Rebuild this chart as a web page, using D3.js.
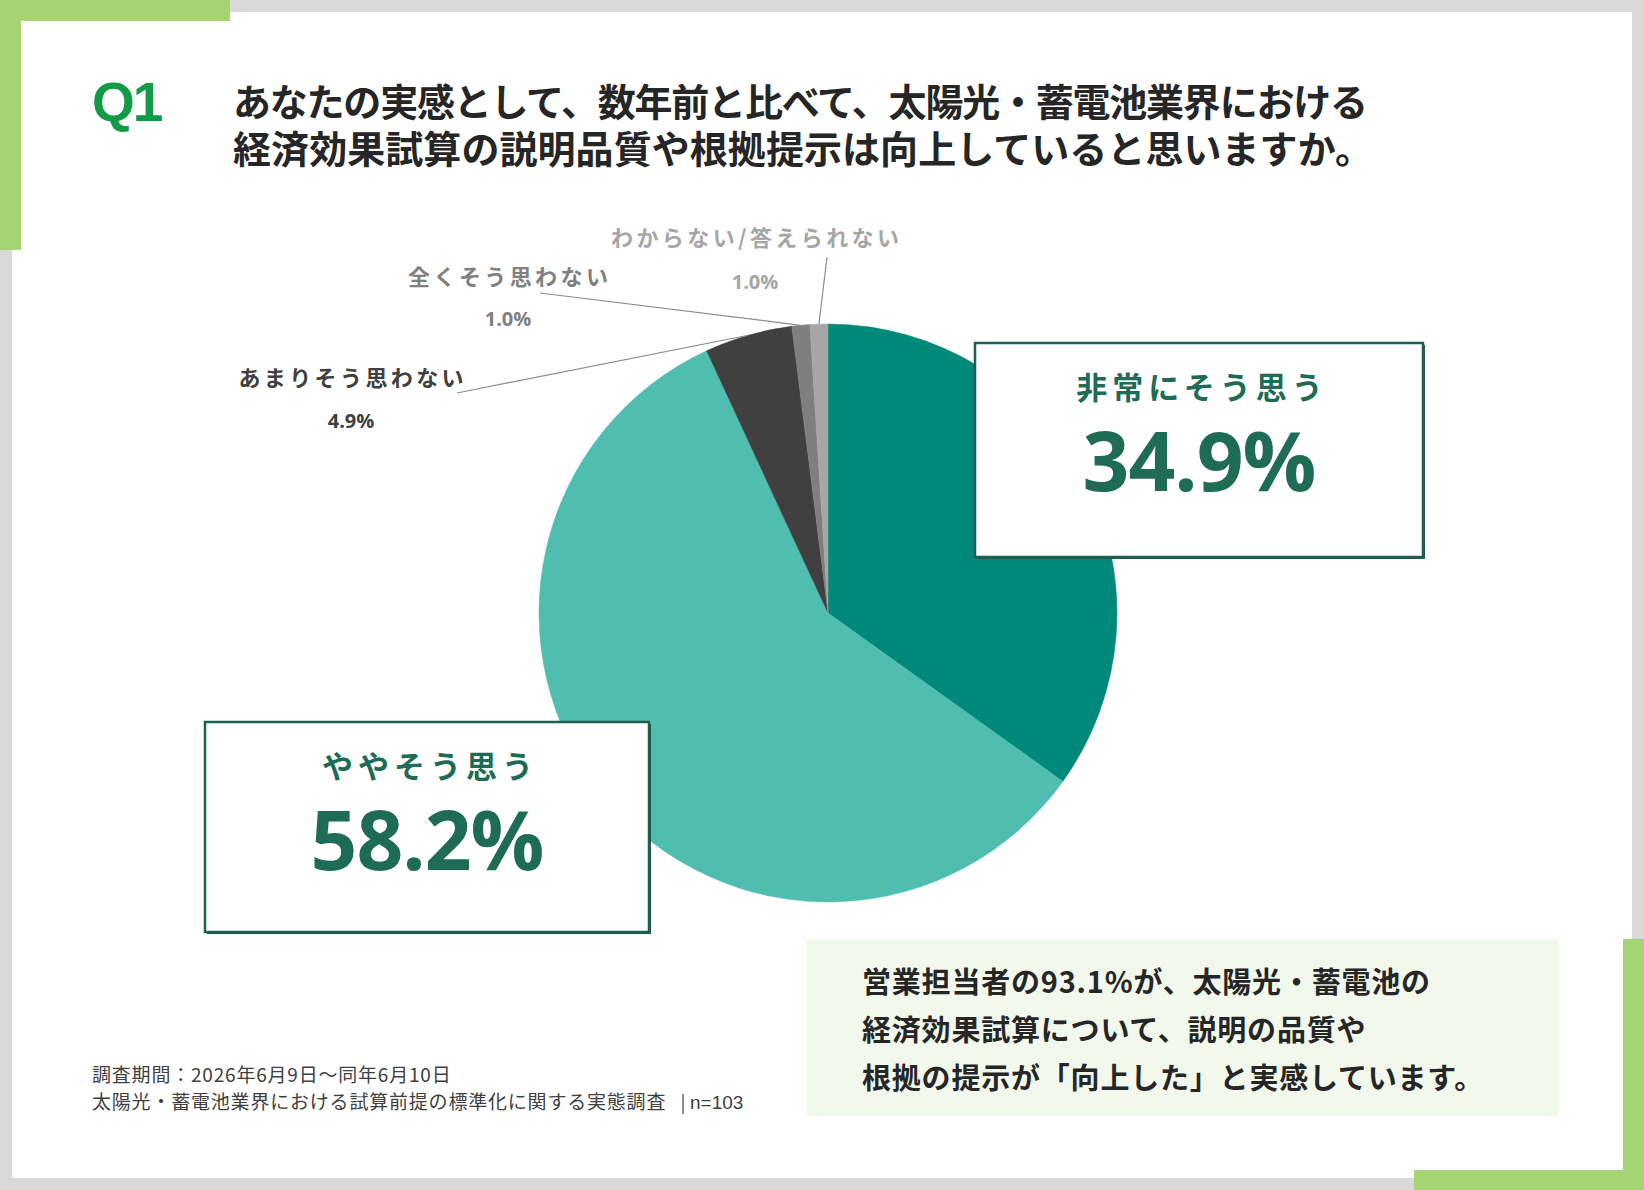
<!DOCTYPE html>
<html lang="ja">
<head>
<meta charset="utf-8">
<script src="https://cdn.jsdelivr.net/npm/d3@7"></script>
<style>
  html, body { margin: 0; padding: 0; background: #d9d9d9; }
  svg { display: block; font-family: "Noto Sans CJK JP", "Noto Sans", sans-serif; }
</style>
</head>
<body>
<svg id="chart" width="1644" height="1190"></svg>
<script>
// ---- data ----
const CATEGORIES = ['非常にそう思う', 'ややそう思う', 'あまりそう思わない', '全くそう思わない', 'わからない/答えられない'];
const VALUES = [34.9, 58.2, 4.9, 1.0, 1.0];
const TITLE_LINES = [
  'あなたの実感として、数年前と比べて、太陽光・蓄電池業界における',
  '経済効果試算の説明品質や根拠提示は向上していると思いますか。',
];
const SUMMARY_LINES = [
  '営業担当者の93.1%が、太陽光・蓄電池の',
  '経済効果試算について、説明の品質や',
  '根拠の提示が「向上した」と実感しています。',
];
const FOOTNOTES = [
  '調査期間：2026年6月9日～同年6月10日',
  '太陽光・蓄電池業界における試算前提の標準化に関する実態調査',
];
const SAMPLE = 'n=103';

// ---- style ----
const SLICE_COLORS = ['#00897a', '#4fbdaf', '#404040', '#7f7f7f', '#a6a6a6'];
const GREEN = '#a6d472';
const DARK_GREEN = '#1e6b56';
const LATIN = '"Open Sans", "Noto Sans", sans-serif';
const fmt = v => v.toFixed(1) + '%';

const W = 1644, H = 1190;
const svg = d3.select('#chart');

// page frame
svg.append('rect').attr('width', W).attr('height', H).attr('fill', '#d9d9d9');
svg.append('rect').attr('x', 12).attr('y', 12).attr('width', 1620).attr('height', 1166).attr('fill', '#fff');
// green corner accents
svg.append('rect').attr('x', 0).attr('y', 0).attr('width', 230).attr('height', 21).attr('fill', GREEN);
svg.append('rect').attr('x', 0).attr('y', 0).attr('width', 21).attr('height', 250).attr('fill', GREEN);
svg.append('rect').attr('x', 1623).attr('y', 939).attr('width', 21).attr('height', 251).attr('fill', GREEN);
svg.append('rect').attr('x', 1414).attr('y', 1170).attr('width', 230).attr('height', 20).attr('fill', GREEN);

// title
svg.append('text')
  .attr('x', 92).attr('y', 121)
  .style('font-family', '"Liberation Sans", Arial, sans-serif')
  .attr('font-size', 55).attr('font-weight', 700)
  .attr('letter-spacing', -2)
  .attr('fill', '#119a48')
  .text('Q1');

const titleWidths = [1135, 1140];
svg.selectAll('text.title')
  .data(TITLE_LINES)
  .join('text')
  .attr('class', 'title')
  .attr('x', 233)
  .attr('y', (d, i) => 116 + i * 47)
  .attr('font-size', 38).attr('font-weight', 700)
  .attr('fill', '#262626')
  .attr('textLength', (d, i) => titleWidths[i])
  .attr('lengthAdjust', 'spacing')
  .text(d => d);

// ---- pie ----
const cx = 828, cy = 613, R = 289;
const pie = d3.pie().sort(null).value(d => d);
const arcs = pie(VALUES);
const arc = d3.arc().innerRadius(0).outerRadius(R);

const pieG = svg.append('g').attr('transform', `translate(${cx},${cy})`);
pieG.selectAll('path')
  .data(arcs)
  .join('path')
  .attr('d', arc)
  .attr('fill', (d, i) => SLICE_COLORS[i])
  .attr('stroke', (d, i) => SLICE_COLORS[i])
  .attr('stroke-width', 0.5);

// small outside labels with leader lines
const SMALL = [
  { idx: 2, tx: 351, ty: 386, px: 351, py: 428, lx: 457, ly: 393, color: '#404040' },
  { idx: 3, tx: 508, ty: 285, px: 508, py: 326, lx: 540, ly: 293, color: '#808080' },
  { idx: 4, tx: 755, ty: 246, px: 755, py: 289, lx: 827, ly: 257, color: '#a6a6a6' },
];

const edgePoint = a => {
  const m = (a.startAngle + a.endAngle) / 2;
  return [cx + R * Math.sin(m), cy - R * Math.cos(m)];
};

const smallG = svg.append('g');
smallG.selectAll('line')
  .data(SMALL)
  .join('line')
  .attr('x1', d => d.lx).attr('y1', d => d.ly)
  .attr('x2', d => edgePoint(arcs[d.idx])[0])
  .attr('y2', d => edgePoint(arcs[d.idx])[1])
  .attr('stroke', '#8c8c8c')
  .attr('stroke-width', 1.2);

smallG.selectAll('text.cat')
  .data(SMALL)
  .join('text')
  .attr('class', 'cat')
  .attr('x', d => d.tx + 1.7).attr('y', d => d.ty)
  .attr('text-anchor', 'middle')
  .attr('font-size', 22).attr('font-weight', 700)
  .attr('letter-spacing', 3.4)
  .attr('fill', d => d.color)
  .text(d => CATEGORIES[d.idx]);

smallG.selectAll('text.pct')
  .data(SMALL)
  .join('text')
  .attr('class', 'pct')
  .attr('x', d => d.px).attr('y', d => d.py)
  .attr('text-anchor', 'middle')
  .style('font-family', LATIN)
  .attr('font-size', 20).attr('font-weight', 700)
  .attr('fill', d => d.color)
  .text(d => fmt(VALUES[d.idx]));

// callout boxes for the two big slices
const BOXES = [
  { idx: 0, x: 975, y: 343, w: 448, h: 214 },
  { idx: 1, x: 205, y: 722, w: 444, h: 210 },
];

const boxG = svg.selectAll('g.box')
  .data(BOXES)
  .join('g')
  .attr('class', 'box')
  .attr('transform', d => `translate(${d.x},${d.y})`);

boxG.append('rect')
  .attr('x', 2).attr('y', 2)
  .attr('width', d => d.w).attr('height', d => d.h)
  .attr('fill', '#1f5a4b');
boxG.append('rect')
  .attr('width', d => d.w).attr('height', d => d.h)
  .attr('fill', '#fff')
  .attr('stroke', '#1f5f4f')
  .attr('stroke-width', 2.5);

boxG.append('text')
  .attr('x', d => d.w / 2 + 3).attr('y', 56)
  .attr('text-anchor', 'middle')
  .attr('font-size', 31).attr('font-weight', 700)
  .attr('letter-spacing', 5)
  .attr('fill', DARK_GREEN)
  .text(d => CATEGORIES[d.idx]);

boxG.append('text')
  .attr('x', d => d.w / 2).attr('y', 148)
  .attr('text-anchor', 'middle')
  .style('font-family', LATIN)
  .attr('font-size', 82).attr('font-weight', 700)
  .attr('letter-spacing', -1)
  .attr('fill', DARK_GREEN)
  .text(d => fmt(VALUES[d.idx]));

// summary panel
svg.append('rect')
  .attr('x', 807).attr('y', 939).attr('width', 752).attr('height', 177)
  .attr('fill', '#f2f8ec');
svg.selectAll('text.summary')
  .data(SUMMARY_LINES)
  .join('text')
  .attr('class', 'summary')
  .attr('x', 862)
  .attr('y', (d, i) => 993 + i * 48)
  .attr('font-size', 29).attr('font-weight', 700)
  .attr('letter-spacing', 0.8)
  .attr('fill', '#262626')
  .text(d => d);

// footnotes
svg.selectAll('text.note')
  .data(FOOTNOTES)
  .join('text')
  .attr('class', 'note')
  .attr('x', 92)
  .attr('y', (d, i) => 1082 + i * 27)
  .attr('font-size', 19)
  .attr('letter-spacing', 0.8)
  .attr('fill', '#404040')
  .text(d => d);
svg.append('line')
  .attr('x1', 683).attr('x2', 683).attr('y1', 1094).attr('y2', 1114)
  .attr('stroke', '#404040').attr('stroke-width', 1.2);
svg.append('text')
  .attr('x', 690).attr('y', 1109)
  .style('font-family', '"Liberation Sans", Arial, sans-serif')
  .attr('font-size', 19)
  .attr('fill', '#404040')
  .text(SAMPLE);
</script>
</body>
</html>
